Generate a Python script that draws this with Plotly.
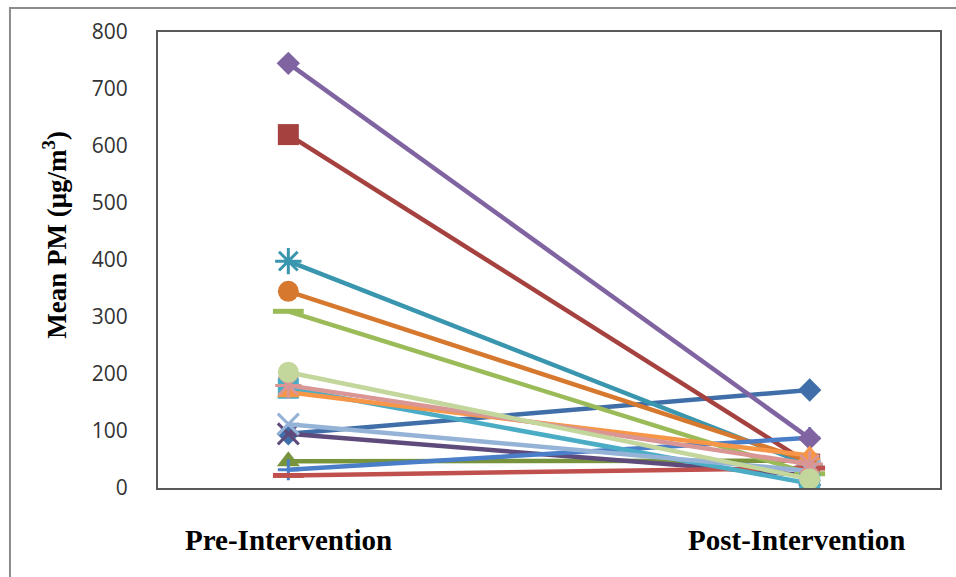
import plotly.graph_objects as go

categories = ["Pre-Intervention", "Post-Intervention"]
x_positions = [1, 2]

pre_values = [95, 620, 47, 95, 398, 345, 32, 22, 310, 745, 175, 168, 112, 180, 203]
post_values = [172, 42, 48, 22, 40, 47, 88, 35, 25, 87, 8, 57, 30, 42, 16]

series_colors = ["#3F6EA8", "#A5413E", "#77943D", "#5F4B7B", "#3A96AE", "#D7782F",
                 "#4A7EC8", "#C0504D", "#9BBB59", "#8064A2", "#4BACC6", "#F79646",
                 "#95B3D7", "#D99694", "#C3D69B"]
series_symbols = ["diamond", "square", "triangle-up", "x-thin-open", "asterisk-open", "circle",
                  "cross-thin-open", "line-ew-open", "line-ew-open", "diamond", "square",
                  "triangle-up", "x-thin-open", "asterisk-open", "circle"]
symbol_sizes = {"diamond": 18, "square": 21, "triangle-up": 20, "x-thin-open": 21,
                "asterisk-open": 22, "circle": 21, "cross-thin-open": 15, "line-ew-open": 22}

y_ticks = [0, 100, 200, 300, 400, 500, 600, 700, 800]

fig = go.Figure()
for i in range(len(pre_values)):
    sym = series_symbols[i]
    open_sym = sym.endswith("open")
    fig.add_trace(go.Scatter(
        x=x_positions,
        y=[pre_values[i], post_values[i]],
        mode="lines+markers",
        line=dict(color=series_colors[i], width=4.5),
        marker=dict(symbol=sym, size=symbol_sizes[sym], color=series_colors[i],
                    line=dict(color=series_colors[i], width=(5 if sym == "line-ew-open" else 3) if open_sym else 0)),
        showlegend=False,
        hoverinfo="skip",
    ))

axis_line = "#595959"
fig.update_layout(
    width=956, height=577,
    margin=dict(l=158, r=16, t=32, b=89),
    paper_bgcolor="white", plot_bgcolor="white",
    xaxis=dict(range=[0.75, 2.25], showticklabels=False, showgrid=False, zeroline=False,
               showline=True, linecolor=axis_line, linewidth=2, mirror=True, ticks=""),
    yaxis=dict(range=[0, 800], tickvals=y_ticks, ticktext=[str(v) for v in y_ticks],
               showgrid=False, zeroline=False, showline=True, linecolor=axis_line,
               linewidth=2, mirror=True, ticks="", ticklabelstandoff=24,
               tickfont=dict(family="Open Sans", size=21, color="#333333")),
    font=dict(family="Liberation Serif"),
)

label_font = dict(family="Liberation Serif", size=29, color="black")
fig.add_annotation(x=x_positions[0], y=-0.114, xref="x", yref="paper", text="<b>%s</b>" % categories[0],
                   showarrow=False, font=label_font, xanchor="center", yanchor="middle")
fig.add_annotation(x=x_positions[1], y=-0.114, xref="x", yref="paper", text="<b>%s</b>" % categories[1],
                   showarrow=False, font=label_font, xanchor="center", yanchor="middle", xshift=-13)
fig.add_annotation(x=-0.132, y=0.555, xref="paper", yref="paper",
                   text="<b>Mean PM (μg/m<sup>3</sup>)</b>", textangle=-90,
                   showarrow=False, font=dict(family="Liberation Serif", size=27, color="black"),
                   xanchor="center", yanchor="middle")

fig.add_shape(type="rect", xref="paper", yref="paper",
              x0=-0.1893, x1=1.03, y0=-0.21, y1=1.0526,
              line=dict(color="#8C8C8C", width=2), fillcolor="rgba(0,0,0,0)", layer="below")

fig.write_html("out.html", config={"displayModeBar": False},
               post_script="document.body.style.margin='0';document.body.style.overflow='hidden';")
